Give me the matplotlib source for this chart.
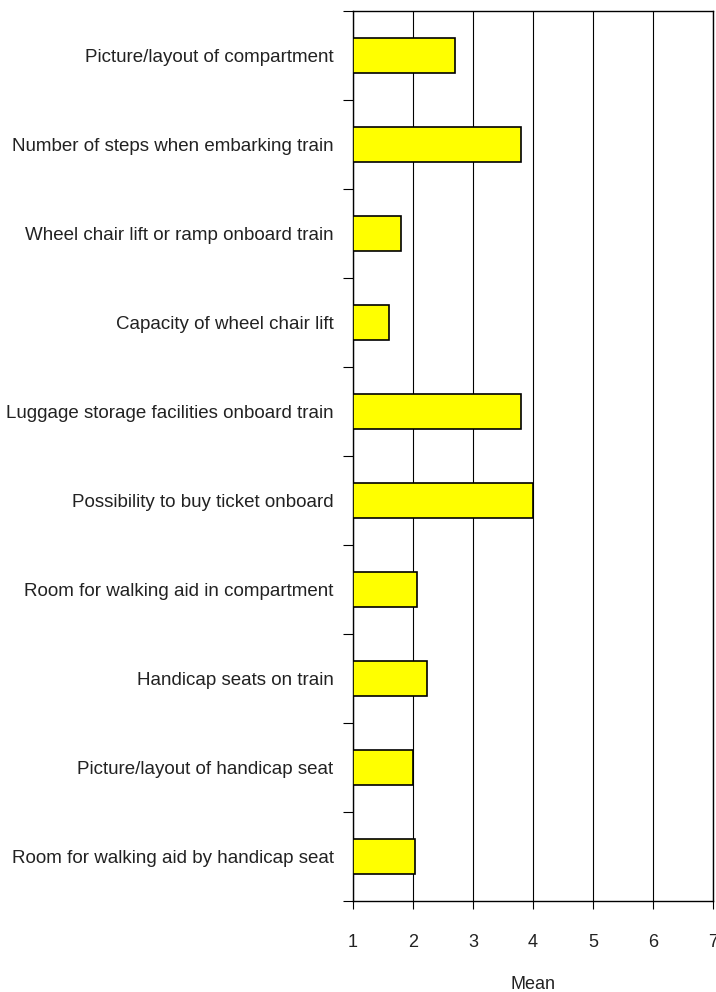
import numpy as np
import matplotlib.pyplot as plt

# Categories, top to bottom as shown in the chart
categories = [
    "Picture/layout of compartment",
    "Number of steps when embarking train",
    "Wheel chair lift or ramp onboard train",
    "Capacity of wheel chair lift",
    "Luggage storage facilities onboard train",
    "Possibility to buy ticket onboard",
    "Room for walking aid in compartment",
    "Handicap seats on train",
    "Picture/layout of handicap seat",
    "Room for walking aid by handicap seat",
]
means = [2.70, 3.80, 1.80, 1.60, 3.80, 4.00, 2.07, 2.23, 2.00, 2.04]
x_ticks = [1, 2, 3, 4, 5, 6, 7]

plt.rcParams['font.family'] = ['Liberation Sans Narrow', 'Liberation Sans', 'DejaVu Sans']

fig = plt.figure(figsize=(7.16, 9.92), dpi=100)
ax = fig.add_axes([353 / 716, 1 - 901 / 992, 360 / 716, 890 / 992])

n = len(categories)
y = np.arange(n)[::-1] + 0.5
ax.barh(y, np.array(means) - 1, left=1, height=0.4, color='#ffff00',
        edgecolor='black', linewidth=1.2, zorder=3)

ax.set_xlim(1, 7)
ax.set_ylim(0, n)
ax.set_xticks(x_ticks)
ax.set_xticklabels([str(t) for t in x_ticks], fontsize=13, color='#222222')
ax.grid(True, axis='x', color='black', linewidth=0.8, zorder=0)

# category boundaries as ticks, labels centred on bars
ax.set_yticks(np.arange(n + 1))
ax.set_yticklabels([])
ax.set_yticks(y, minor=True)
ax.set_yticklabels(categories, minor=True, fontsize=13.5, color='#222222')
ax.tick_params(axis='y', which='minor', length=0, pad=14)
ax.tick_params(axis='y', which='major', length=7, width=0.8, direction='out')
ax.tick_params(axis='x', length=6, width=0.8, direction='out', pad=18)

for s in ax.spines.values():
    s.set_linewidth(1.0)
    s.set_color('black')

ax.set_xlabel('Mean', fontsize=13, labelpad=18, color='#222222')

fig.savefig('out.png', dpi=100)
